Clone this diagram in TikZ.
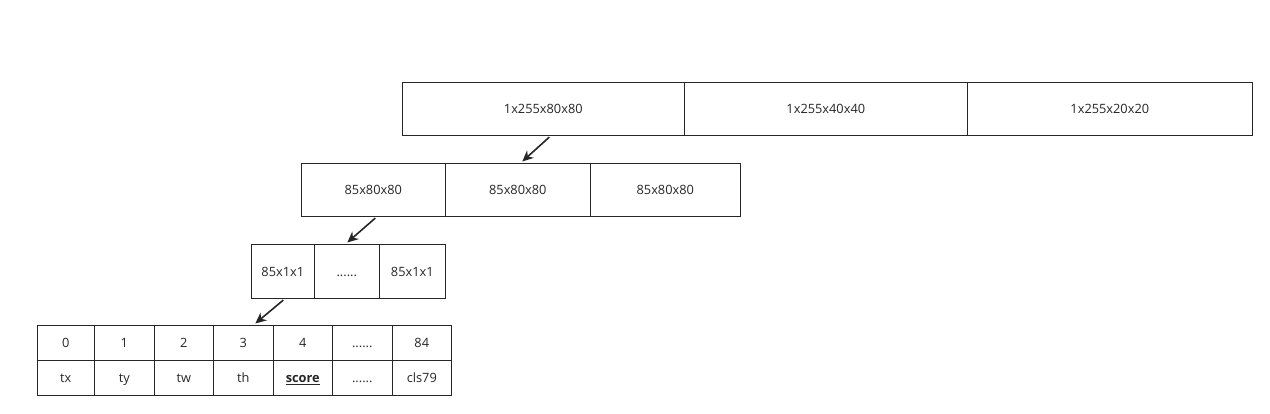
\documentclass[tikz,border=0pt]{standalone}
\usepackage{fontspec}
\setmainfont{Open Sans}
\usetikzlibrary{arrows.meta,calc}
\definecolor{ln}{HTML}{262626}
\tikzset{
  cell/.style={draw=ln, line width=1.6pt, rectangle, inner sep=0pt, anchor=north west,
    font=\fontsize{12.8}{14}\selectfont, text=ln, text height=11pt, text depth=1pt},
  link/.style={draw=ln, line width=1.6pt, -{Stealth[length=11pt,width=10pt]}}
}
\newcommand{\cellbox}[6]{% name, x1, y1, x2, y2, text
  \node[cell, minimum width={#4-#2}, minimum height={#5-#3}] (#1) at (#2,#3) {#6};}
\begin{document}
\begin{tikzpicture}[x=1pt,y=-1pt]
\useasboundingbox (0.5,0.5) rectangle (1270.5,413.5);
% top row
\cellbox{t1}{402}{82}{684}{135}{1x255x80x80}
\cellbox{t2}{684}{82}{967}{135}{1x255x40x40}
\cellbox{t3}{967}{82}{1252}{135}{1x255x20x20}
% second row
\cellbox{r2a}{301}{163}{445}{216}{85x80x80}
\cellbox{r2b}{445}{163}{590}{216}{85x80x80}
\cellbox{r2c}{590}{163}{740}{216}{85x80x80}
% third row
\cellbox{r3a}{251}{244}{314}{298}{85x1x1}
\cellbox{r3b}{314}{244}{379}{298}{......}
\cellbox{r3c}{379}{244}{445}{298}{85x1x1}
% bottom table
\cellbox{a0}{37}{325}{94}{360}{0}
\cellbox{a1}{94}{325}{154}{360}{1}
\cellbox{a2}{154}{325}{213}{360}{2}
\cellbox{a3}{213}{325}{273}{360}{3}
\cellbox{a4}{273}{325}{332}{360}{4}
\cellbox{a5}{332}{325}{392}{360}{......}
\cellbox{a6}{392}{325}{451}{360}{84}
\cellbox{b0}{37}{360}{94}{395}{tx}
\cellbox{b1}{94}{360}{154}{395}{ty}
\cellbox{b2}{154}{360}{213}{395}{tw}
\cellbox{b3}{213}{360}{273}{395}{th}
\cellbox{b4}{273}{360}{332}{395}{\textbf{\underline{score}}}
\cellbox{b5}{332}{360}{392}{395}{......}
\cellbox{b6}{392}{360}{451}{395}{cls79}
% arrows
\draw[link] ($(t1.south)+(6,1)$) -- ($(r2b.north)+(4.5,-1)$);
\draw[link] ($(r2a.south)+(2,1)$) -- ($(r3b.north)+(0.5,-1)$);
\draw[link] ($(r3a.south)+(0.5,1)$) -- ($(a3.north)+(12,-1)$);
\end{tikzpicture}
\end{document}
